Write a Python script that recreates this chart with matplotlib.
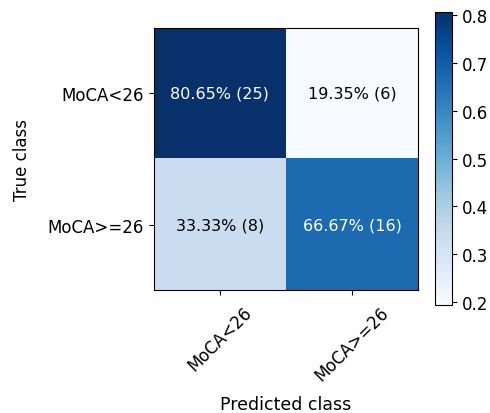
import matplotlib
matplotlib.use("Agg")
import matplotlib.pyplot as plt
import numpy as np

classes = ["MoCA<26", "MoCA>=26"]
counts = np.array([[25, 6],
                   [8, 16]])
# row-normalised rates
rates = np.array([[0.8065, 0.1935],
                  [0.3333, 0.6667]])

fig = plt.figure(figsize=(4.9, 4.14), dpi=100)
ax = fig.add_axes([0.314, 0.297, 0.539, 0.633])
cax = fig.add_axes([0.888, 0.260, 0.035, 0.709])

im = ax.imshow(rates, interpolation="nearest", cmap=plt.cm.Blues, aspect="auto")
cb = fig.colorbar(im, cax=cax)
cb.set_ticks([0.2, 0.3, 0.4, 0.5, 0.6, 0.7, 0.8])
cb.ax.tick_params(labelsize=12)

thresh = rates.max() / 2.0
for i in range(rates.shape[0]):
    for j in range(rates.shape[1]):
        ax.text(j, i, "%.2f%% (%d)" % (rates[i, j] * 100, counts[i, j]),
                ha="center", va="center", fontsize=11.5,
                color="white" if rates[i, j] > thresh else "black")

ax.set_xticks(np.arange(len(classes)))
ax.set_xticklabels(classes, rotation=45, fontsize=12)
ax.set_yticks(np.arange(len(classes)))
ax.set_yticklabels(classes, fontsize=12)
ax.tick_params(axis="x", pad=6)
ax.set_xlabel("Predicted class", fontsize=12.5, labelpad=8)
ax.set_ylabel("True class", fontsize=12, labelpad=12)

fig.savefig("out.png", dpi=100)
